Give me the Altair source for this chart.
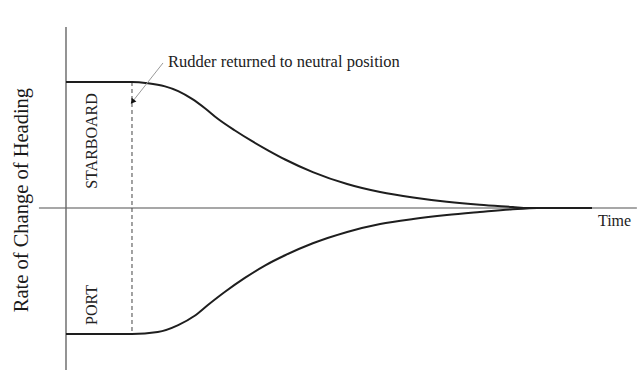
import altair as alt
import pandas as pd

# Rate of change of heading after the rudder is returned to neutral
# time in arbitrary units (rudder returned at t = 1), rate normalised to ±1
starboard_time = [0.0, 1.0, 1.24, 1.5, 1.70, 1.91, 2.11, 2.30, 2.56, 2.82, 3.06,
                  3.32, 3.74, 4.26, 4.76, 5.26, 5.77, 6.27, 6.77, 7.0, 7.97]
starboard_rate = [1.0, 1.0, 0.99, 0.965, 0.928, 0.866, 0.790, 0.708, 0.615, 0.530,
                  0.458, 0.385, 0.285, 0.190, 0.127, 0.083, 0.049, 0.025, 0.008, 0.0, 0.0]

port_time = [0.0, 1.0, 1.39, 1.70, 1.95, 2.15, 2.41, 2.71, 3.02, 3.32, 3.74,
             4.26, 4.76, 5.26, 5.77, 6.27, 6.77, 7.14]
port_rate = [-1.0, -1.0, -0.984, -0.929, -0.855, -0.770, -0.665, -0.555, -0.455,
             -0.375, -0.280, -0.190, -0.127, -0.087, -0.056, -0.032, -0.010, 0.0]

rudder_time = 1.0

SERIF = "Liberation Serif"

curves = pd.concat([
    pd.DataFrame({"t": starboard_time, "r": starboard_rate, "side": "STARBOARD"}),
    pd.DataFrame({"t": port_time, "r": port_rate, "side": "PORT"}),
])

xs = alt.Scale(domain=[-1.0, 8.652], nice=False, zero=False)
ys = alt.Scale(domain=[-1.2857, 1.6508], nice=False, zero=False)

def X(field="t"):
    return alt.X(f"{field}:Q", scale=xs, axis=None)

def Y(field="r"):
    return alt.Y(f"{field}:Q", scale=ys, axis=None)

# axes drawn as plain rules through the origin
time_axis = alt.Chart(pd.DataFrame({"t": [-0.41], "t2": [8.65], "r": [0.0]})).mark_rule(
    color="#8a8a8a", strokeWidth=1.6
).encode(x=X(), x2="t2:Q", y=Y())

rate_axis = alt.Chart(pd.DataFrame({"t": [0.0], "r": [1.437], "r2": [-1.3]})).mark_rule(
    color="#666666", strokeWidth=1.4
).encode(x=X(), y=Y(), y2="r2:Q")

rudder_line = alt.Chart(pd.DataFrame({"t": [rudder_time], "r": [1.0], "r2": [-1.0]})).mark_rule(
    color="#444444", strokeWidth=1, strokeDash=[4, 3]
).encode(x=X(), y=Y(), y2="r2:Q")

curve_lines = alt.Chart(curves).mark_line(
    color="#1e1e1e", strokeWidth=2, interpolate="monotone"
).encode(x=X(), y=Y(), detail="side:N", order="t:Q")

# annotation arrow
arrow_df = pd.DataFrame({"t": [1.47], "r": [1.151], "t2": [1.015], "r2": [0.849]})
arrow_shaft = alt.Chart(arrow_df).mark_rule(color="#9a9a9a", strokeWidth=1).encode(
    x=X(), y=Y(), x2="t2:Q", y2="r2:Q"
)
arrow_head = alt.Chart(arrow_df).mark_point(
    shape="triangle", filled=True, color="#111111", size=36, angle=218, opacity=1
).encode(x=X("t2"), y=Y("r2"))

note = alt.Chart(pd.DataFrame({"t": [1.545], "r": [1.123],
                               "label": ["Rudder returned to neutral position"]})).mark_text(
    font=SERIF, fontSize=16.5, align="left", baseline="alphabetic", color="#222222"
).encode(x=X(), y=Y(), text="label:N")

time_label = alt.Chart(pd.DataFrame({"t": [8.06], "r": [-0.143], "label": ["Time"]})).mark_text(
    font=SERIF, fontSize=16, align="left", baseline="alphabetic", color="#222222"
).encode(x=X(), y=Y(), text="label:N")

side_labels = alt.Chart(pd.DataFrame({"t": [0.47, 0.47], "r": [0.532, -0.770],
                                      "label": ["STARBOARD", "PORT"]})).mark_text(
    font=SERIF, fontSize=16, align="center", baseline="alphabetic", angle=270, color="#222222"
).encode(x=X(), y=Y(), text="label:N")

rate_title = alt.Chart(pd.DataFrame({"t": [-0.575], "r": [0.063],
                                     "label": ["Rate of Change of Heading"]})).mark_text(
    font=SERIF, fontSize=20.5, align="center", baseline="alphabetic", angle=270, color="#1a1a1a"
).encode(x=X(), y=Y(), text="label:N")

chart = alt.layer(
    time_axis, rate_axis, rudder_line, curve_lines, arrow_shaft, arrow_head,
    note, time_label, side_labels, rate_title
).properties(
    width=637, height=370, padding=0, autosize=alt.AutoSizeParams(type="none"),
    background="white"
).configure_view(stroke=None)

chart.save("out.html", embed_options={"renderer": "svg", "actions": False})
